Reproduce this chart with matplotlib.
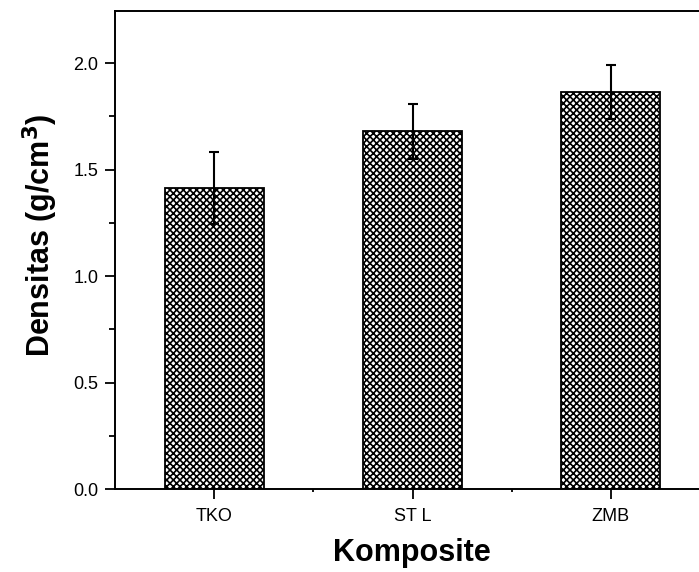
import matplotlib
matplotlib.use("Agg")
import matplotlib.pyplot as plt
from matplotlib.ticker import MultipleLocator, FixedLocator

plt.rcParams['font.family'] = ['Liberation Sans', 'DejaVu Sans']
plt.rcParams['hatch.linewidth'] = 1.2

categories = ["TKO", "ST L", "ZMB"]
values = [1.415, 1.68, 1.865]
errors = [0.17, 0.13, 0.125]

fig = plt.figure(figsize=(6.99, 5.72), dpi=100)
ax = fig.add_axes([115/699, 1-489/572, 595/699, (489-11)/572])

x = list(range(len(categories)))
ax.bar(x, values, width=0.5, color='white', edgecolor='black', hatch='xxxxx',
       linewidth=1.3, zorder=2)
ax.errorbar(x, values, yerr=errors, fmt='none', ecolor='black', elinewidth=1.5,
            capsize=3.8, capthick=1.5, zorder=3)

ax.set_xlim(-0.5, 2.5)
ax.set_ylim(0, 2.245)
ax.set_xticks(x)
ax.set_xticklabels(categories, fontsize=13)
ax.xaxis.set_minor_locator(FixedLocator([0.5, 1.5]))
ax.yaxis.set_major_locator(MultipleLocator(0.5))
ax.yaxis.set_minor_locator(MultipleLocator(0.25))
ax.set_yticklabels([], minor=True)
ax.yaxis.set_major_formatter(matplotlib.ticker.FormatStrFormatter('%.1f'))
ax.tick_params(axis='y', which='major', direction='out', length=7, width=1.3, labelsize=13, pad=5)
ax.tick_params(axis='y', which='minor', direction='out', length=4, width=1.3)
ax.tick_params(axis='x', which='major', direction='out', length=7, width=1.3, pad=7)
ax.tick_params(axis='x', which='minor', direction='out', length=2, width=1.3)
for s in ax.spines.values():
    s.set_linewidth(1.4)

ax.set_ylabel(r"Densitas (g/cm$^\mathbf{3}$)", fontsize=22, fontweight='bold', va='center')
ax.yaxis.set_label_coords((40-115)/595, 0.53)
ax.set_xlabel("Komposite", fontsize=22, fontweight='bold', va='center')
ax.xaxis.set_label_coords((412-115)/595, -(553-489)/478)

fig.savefig("out.png", dpi=100)
